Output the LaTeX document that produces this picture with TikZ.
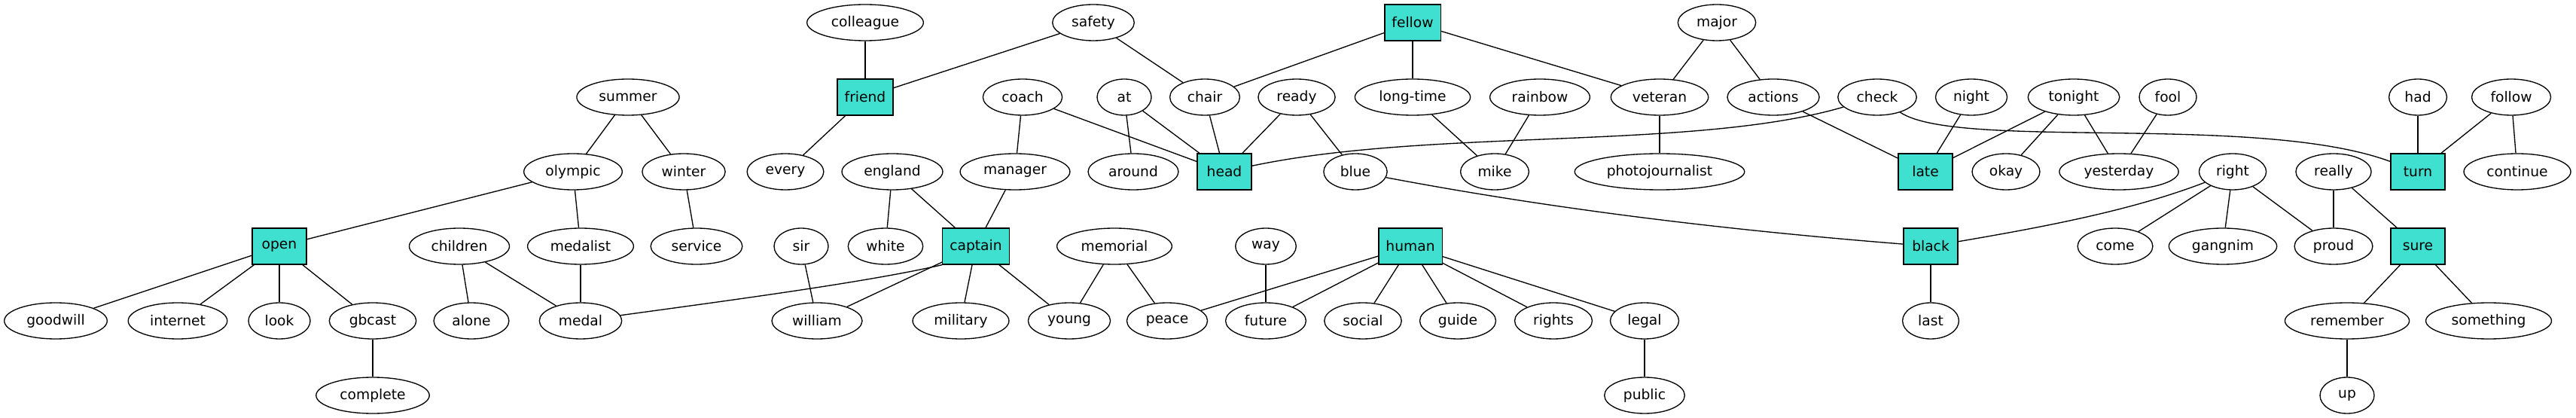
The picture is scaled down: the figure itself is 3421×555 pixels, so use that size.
\documentclass[tikz,border=0pt]{standalone}
\usepackage{fontspec}
\setmainfont{DejaVu Sans}
\usetikzlibrary{shapes.geometric}
\definecolor{turq}{HTML}{40E0D0}

\begin{document}
\begin{tikzpicture}[x=0.75pt,y=0.75pt,line width=1pt,
  every node/.style={font=\fontsize{14}{17}\selectfont,draw,inner xsep=7.2pt,inner ysep=0pt,minimum width=54pt,minimum height=36pt},
  word/.style={ellipse},
  topic/.style={rectangle,fill=turq}]
\useasboundingbox (0,0) rectangle (3421,-555);
% row 1
\node[word] (colleague) at (1149,-30) {colleague};
\node[word] (safety) at (1452,-30) {safety};
\node[topic] (fellow) at (1876,-30) {fellow};
\node[word] (major) at (2280,-30) {major};
% row 2
\node[word] (summer) at (834,-129) {summer};
\node[topic] (friend) at (1149,-129) {friend};
\node[word] (coach) at (1358,-129) {coach};
\node[word] (at) at (1493,-129) {at};
\node[word] (chair) at (1600,-129) {chair};
\node[word] (ready) at (1722,-129) {ready};
\node[word] (longtime) at (1876,-129) {long-time};
\node[word] (rainbow) at (2045,-129) {rainbow};
\node[word] (veteran) at (2204,-129) {veteran};
\node[word] (actions) at (2355,-129) {actions};
\node[word] (check) at (2493,-129) {check};
\node[word] (night) at (2618,-129) {night};
\node[word] (tonight) at (2754,-129) {tonight};
\node[word] (fool) at (2879,-129) {fool};
\node[word] (had) at (3211,-129) {had};
\node[word] (follow) at (3335,-129) {follow};
% row 3
\node[word] (olympic) at (761,-228) {olympic};
\node[word] (winter) at (908,-228) {winter};
\node[word] (every) at (1043,-228) {every};
\node[word] (england) at (1185,-228) {england};
\node[word] (manager) at (1348,-228) {manager};
\node[word] (around) at (1505,-228) {around};
\node[topic] (head) at (1626,-228) {head};
\node[word] (blue) at (1800,-228) {blue};
\node[word] (mike) at (1985,-228) {mike};
\node[word] (photojournalist) at (2204,-228) {photojournalist};
\node[topic] (late) at (2557,-228) {late};
\node[word] (okay) at (2664,-228) {okay};
\node[word] (yesterday) at (2814,-228) {yesterday};
\node[word] (right) at (2965,-228) {right};
\node[word] (really) at (3099,-228) {really};
\node[topic] (turn) at (3211,-228) {turn};
\node[word] (continue) at (3343,-228) {continue};
% row 4
\node[topic] (open) at (371,-327) {open};
\node[word] (children) at (610,-327) {children};
\node[word] (medalist) at (771,-327) {medalist};
\node[word] (service) at (925,-327) {service};
\node[word] (sir) at (1064,-327) {sir};
\node[word] (white) at (1176,-327) {white};
\node[topic] (captain) at (1296,-327) {captain};
\node[word] (memorial) at (1480,-327) {memorial};
\node[word] (way) at (1681,-327) {way};
\node[topic] (human) at (1873,-327) {human};
\node[topic] (black) at (2564,-327) {black};
\node[word] (come) at (2809,-327) {come};
\node[word] (gangnim) at (2952,-327) {gangnim};
\node[word] (proud) at (3099,-327) {proud};
\node[topic] (sure) at (3211,-327) {sure};
% row 5
\node[word] (goodwill) at (74,-426) {goodwill};
\node[word] (internet) at (236,-426) {internet};
\node[word] (look) at (371,-426) {look};
\node[word] (gbcast) at (495,-426) {gbcast};
\node[word] (alone) at (626,-426) {alone};
\node[word] (medal) at (771,-426) {medal};
\node[word] (william) at (1085,-426) {william};
\node[word] (military) at (1276,-426) {military};
\node[word] (young) at (1420,-426) {young};
\node[word] (peace) at (1550,-426) {peace};
\node[word] (future) at (1681,-426) {future};
\node[word] (social) at (1810,-426) {social};
\node[word] (guide) at (1936,-426) {guide};
\node[word] (rights) at (2063,-426) {rights};
\node[word] (legal) at (2184,-426) {legal};
\node[word] (last) at (2564,-426) {last};
\node[word] (remember) at (3117,-426) {remember};
\node[word] (something) at (3305,-426) {something};
% row 6
\node[word] (complete) at (495,-525) {complete};
\node[word] (public) at (2184,-525) {public};
\node[word] (up) at (3117,-525) {up};
% edges
\draw (summer) -- (olympic);
\draw (summer) -- (winter);
\draw (olympic) -- (open);
\draw (olympic) -- (medalist);
\draw (winter) -- (service);
\draw (open) -- (goodwill);
\draw (open) -- (internet);
\draw (open) -- (look);
\draw (open) -- (gbcast);
\draw (gbcast) -- (complete);
\draw (children) -- (alone);
\draw (children) -- (medal);
\draw (medalist) -- (medal);
\draw (medal) .. controls (960,-400) and (1150,-375) .. (captain.south west);
\draw (colleague) -- (friend);
\draw (safety) -- (friend);
\draw (safety) -- (chair);
\draw (friend) -- (every);
\draw (coach) -- (manager);
\draw (coach) -- (head);
\draw (at) -- (around);
\draw (at) -- (head);
\draw (chair) -- (head);
\draw (ready) -- (head);
\draw (ready) -- (blue);
\draw (fellow) -- (chair);
\draw (fellow) -- (longtime);
\draw (fellow) -- (veteran);
\draw (england) -- (white);
\draw (england) -- (captain);
\draw (manager) -- (captain);
\draw (sir) -- (william);
\draw (captain) -- (william);
\draw (captain) -- (military);
\draw (captain) -- (young);
\draw (memorial) -- (young);
\draw (memorial) -- (peace);
\draw (way) -- (future);
\draw (human) -- (peace);
\draw (human) -- (future);
\draw (human) -- (social);
\draw (human) -- (guide);
\draw (human) -- (rights);
\draw (human) -- (legal);
\draw (legal) -- (public);
\draw (longtime) -- (mike);
\draw (rainbow) -- (mike);
\draw (veteran) -- (photojournalist);
\draw (major) -- (veteran);
\draw (major) -- (actions);
\draw (actions) -- (late);
\draw (head) .. controls (1900,-170) and (2250,-200) .. (check);
\draw (check) .. controls (2600,-200) and (3000,-150) .. (turn);
\draw (night) -- (late);
\draw (tonight) -- (late);
\draw (tonight) -- (okay);
\draw (tonight) -- (yesterday);
\draw (fool) -- (yesterday);
\draw (blue) .. controls (2070,-279) and (2300,-306) .. (black);
\draw (black) -- (last);
\draw (right) .. controls (2830,-280) and (2710,-302) .. (black);
\draw (right) -- (come);
\draw (right) -- (gangnim);
\draw (right) -- (proud);
\draw (really) -- (proud);
\draw (really) -- (sure);
\draw (had) -- (turn);
\draw (follow) -- (turn);
\draw (follow) -- (continue);
\draw (sure) -- (remember);
\draw (sure) -- (something);
\draw (remember) -- (up);
\end{tikzpicture}
\end{document}
